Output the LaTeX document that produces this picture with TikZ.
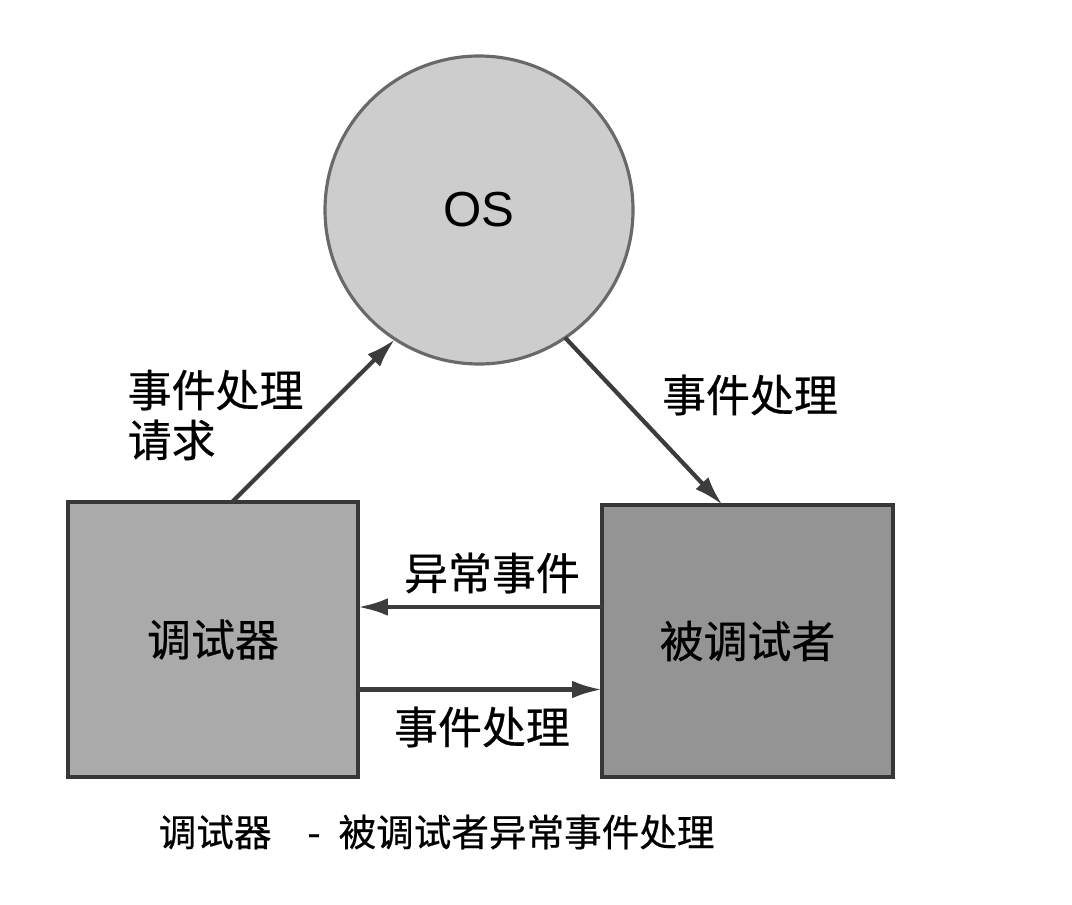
\documentclass[tikz,border=0pt]{standalone}
\usepackage{fontspec}
\setmainfont{Liberation Sans}
\newfontfamily\cjk[FakeBold=0.5]{Noto Sans CJK SC}
\usetikzlibrary{arrows.meta,positioning,calc}
\definecolor{osFill}{RGB}{205,205,205}
\definecolor{osLine}{RGB}{105,105,105}
\definecolor{dbgFill}{RGB}{170,170,170}
\definecolor{deeFill}{RGB}{148,148,148}
\definecolor{boxLine}{RGB}{55,55,55}
\definecolor{arrowCol}{RGB}{60,60,60}

\begin{document}
\begin{tikzpicture}[
    box/.style={draw=boxLine, line width=1.1pt, minimum width=2.9cm, minimum height=2.75cm,
      inner sep=0pt, outer sep=0pt, font=\cjk\fontsize{12.5}{15}\selectfont},
    flow/.style={draw=arrowCol, line width=1.2pt, -{Latex[length=8.5pt,width=5pt]}},
    lbl/.style={font=\cjk\fontsize{12.5}{14.2}\selectfont, inner sep=0pt}
  ]
    \useasboundingbox (0,0) rectangle (10.72,-9.04);

    % OS circle on top
    \node[circle, draw=osLine, line width=0.9pt, fill=osFill, minimum size=3.08cm, inner sep=0pt,
      outer sep=0pt, font=\fontsize{14}{16}\selectfont] (os) at (4.79,-2.10) {OS};

    % Debugger and debuggee boxes
    \node[box, fill=dbgFill] (dbg) at (2.13,-6.395) {调试器};
    \node[box, fill=deeFill, minimum height=2.72cm, minimum width=2.91cm] (dee) at (7.475,-6.41) {被调试者};

    % Ends of the connectors
    \coordinate (reqStart) at ($(dbg.north)+(0.19,0)$);
    \coordinate (hdlEnd) at ($(dee.north)+(-0.25,0)$);
    \coordinate (excStart) at ([yshift=3.4mm]dee.west);
    \coordinate (evtStart) at ([yshift=-5.0mm]dbg.east);

    % Connectors
    \draw[flow] (reqStart) -- (os.237);
    \draw[flow] (os.304) -- (hdlEnd);
    \draw[flow] (excStart) -- (dbg.east |- excStart);
    \draw[flow] (evtStart) -- (dee.west |- evtStart);

    % Labels
    \node[lbl, anchor=west, align=left] (reqLbl) at (1.27,-4.15) {事件处理\\请求};
    \node[lbl] (hdlLbl) at (7.50,-3.95) {事件处理};
    \node[lbl] (excLbl) at (4.92,-5.73) {异常事件};
    \node[lbl] (evtLbl) at (4.82,-7.27) {事件处理};

    % Caption
    \node[lbl, anchor=west, font=\cjk\fontsize{10.7}{12}\selectfont] (caption) at (1.58,-8.32)
      {调试器\hspace{0.36cm}-\hspace{0.18cm}被调试者异常事件处理};
\end{tikzpicture}
\end{document}
